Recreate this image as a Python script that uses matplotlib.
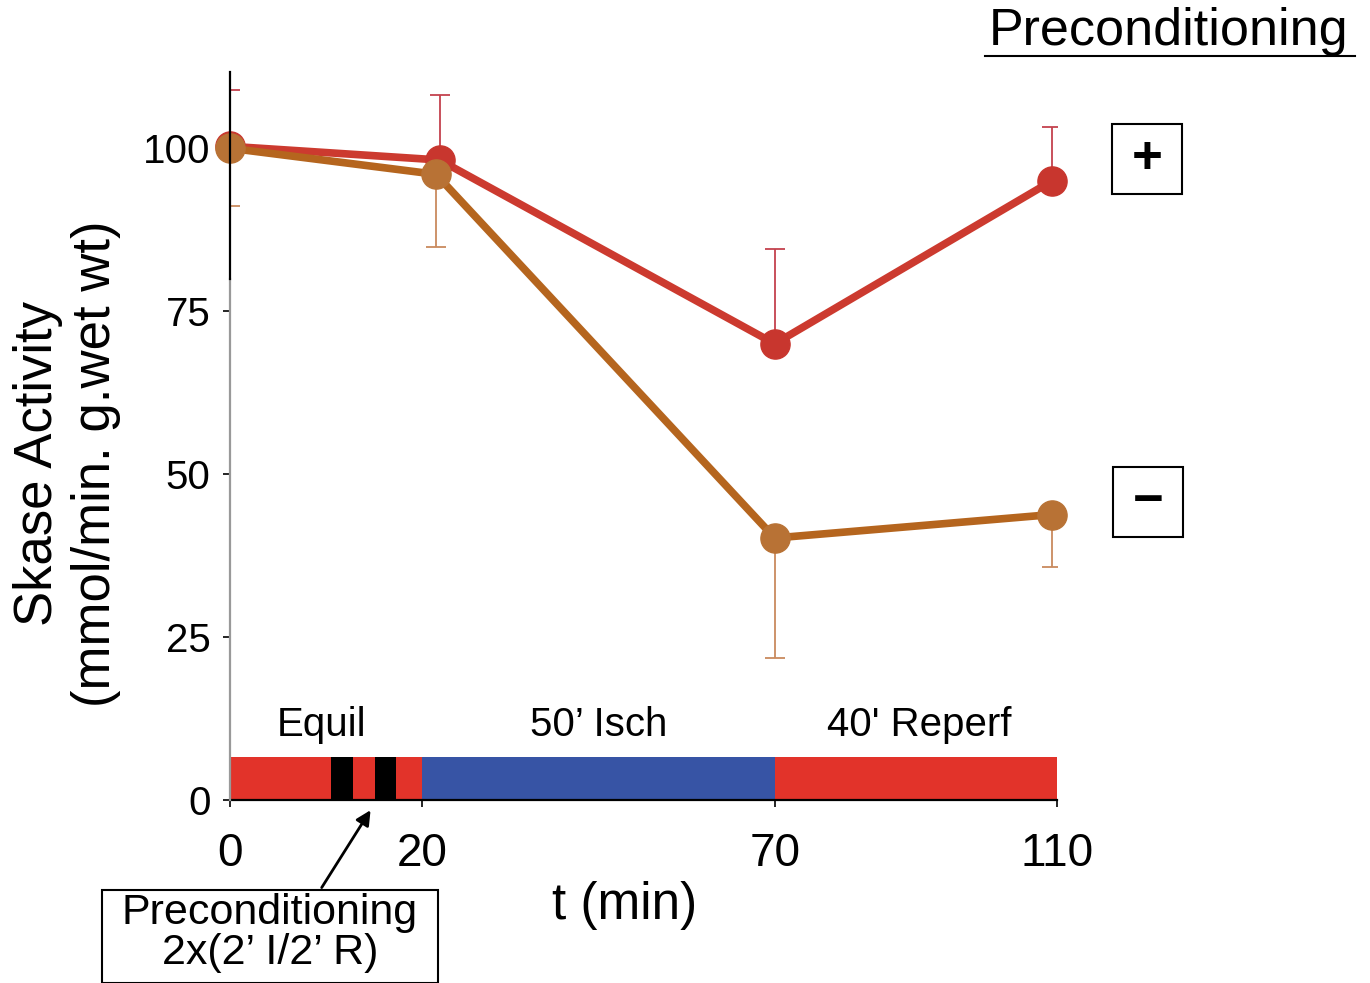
import numpy as np
import matplotlib
matplotlib.use("Agg")
import matplotlib.pyplot as plt
from matplotlib.patches import Rectangle
from matplotlib.lines import Line2D

plt.rcParams['font.family'] = ['Liberation Sans', 'DejaVu Sans']

# data
plus_t = [0, 22.5, 70, 109.3]
plus_mean = [100.3, 98.2, 70.0, 95.0]
plus_err = [8.7, 10.0, 14.5, 8.2]

minus_t = [0, 22.0, 70, 109.3]
minus_mean = [100.0, 96.0, 40.2, 43.8]
minus_err = [8.9, 11.2, 18.4, 8.1]

x_ticks = [0, 20, 70, 110]
y_ticks = [0, 25, 50, 75, 100]

# protocol timeline (start, duration)
phases = [(0, 20), (20, 50), (70, 40)]
phase_colors = ['#e2332a', '#3754a5', '#e2332a']
phase_labels = ['Equil', '50\u2019 Isch', "40' Reperf"]
precond_pulses = [(10.5, 2.3), (15.1, 2.2)]

W, H = 1370, 983


def px(x, y):
    return (x / W, 1 - y / H)


# piecewise scale: first 20 min drawn wider than the rest
seg_in = [0, 20, 110]
seg_out = [0, 27.2, 117.2]


def fwd(x):
    return np.interp(x, seg_in, seg_out)


def inv(x):
    return np.interp(x, seg_out, seg_in)


fig = plt.figure(figsize=(W / 100, H / 100), dpi=100)
l, b = px(230, 800)
r, t = px(1057, 72)
ax = fig.add_axes([l, b, r - l, t - b])
ax.set_xscale('function', functions=(fwd, inv))
ax.set_xlim(0, 110)
ax.set_ylim(0, 111.7)

# timeline bar
ax.broken_barh(phases, (0, 6.6), facecolors=phase_colors, zorder=1)
ax.broken_barh(precond_pulses, (0, 6.6), facecolors='black', zorder=2)
for (s, d), lab, dx in zip(phases, phase_labels, [-0.5, 0, 0.5]):
    ax.text(s + d / 2 + dx, 11.5, lab, ha='center', va='center', fontsize=29)

# series
ax.errorbar(plus_t, plus_mean, yerr=[[0] * 4, plus_err], fmt='none',
            ecolor='#c4424e', elinewidth=1.3, capsize=7, capthick=1.3, zorder=3)
ax.plot(plus_t, plus_mean, color='#cc3a2f', lw=5.5, marker='o', ms=21,
        mfc='#c8362e', mec='#c8362e', zorder=4, clip_on=False)
ax.errorbar(minus_t, minus_mean, yerr=[minus_err, [0] * 4], fmt='none',
            ecolor='#c98a5e', elinewidth=1.3, capsize=7, capthick=1.3, zorder=5)
ax.plot(minus_t, minus_mean, color='#b5651e', lw=5.5, marker='o', ms=21,
        mfc='#b87235', mec='#b87235', zorder=6, clip_on=False)

# axes styling
for s in ['top', 'right', 'left']:
    ax.spines[s].set_visible(False)
ax.spines['bottom'].set_linewidth(1.6)
ax.plot([0, 0], [0, 80], color='#999999', lw=1.6, clip_on=False, zorder=7)
ax.plot([0, 0], [80, 111.7], color='black', lw=1.6, clip_on=False, zorder=7)

ax.set_xticks(x_ticks)
ax.set_xticklabels([str(v) for v in x_ticks])
ax.set_yticks(y_ticks)
ax.tick_params(axis='x', labelsize=33, length=5, width=1.2, pad=18)
ax.tick_params(axis='y', labelsize=29, length=5, width=1.2, pad=9)

# preconditioning callout
ax.annotate('', xy=(14.8, -1.2), xytext=(9.4, -13.8), annotation_clip=False,
            arrowprops=dict(arrowstyle='-|>', color='black', lw=2, mutation_scale=22))
x0, y0 = px(102, 983)
x1, y1 = px(438, 890)
fig.add_artist(Rectangle((x0, y0), x1 - x0, y1 - y0, transform=fig.transFigure,
                         fill=False, ec='black', lw=1.5))
fig.text(*px(270, 933), 'Preconditioning\n2x(2\u2019 I/2\u2019 R)', ha='center', va='center',
         fontsize=31, linespacing=1.0)

# axis labels
fig.text(*px(67, 464), 'Skase Activity\n(mmol/min. g.wet wt)', rotation=90,
         ha='center', va='center', fontsize=38, linespacing=1.2)
fig.text(*px(625, 905), 't (min)', ha='center', va='center', fontsize=37)

# legend-like annotations on the right
fig.text(*px(1169, 31), 'Preconditioning', ha='center', va='center', fontsize=37.5)
fig.add_artist(Line2D([985 / W, 1355 / W], [1 - 56 / H] * 2, color='black', lw=1.5))

for cx, cy, sym in [(1147, 159, '+'), (1148, 502, '\u2212')]:
    bx0, by0 = px(cx - 35, cy + 35)
    bx1, by1 = px(cx + 35, cy - 35)
    fig.add_artist(Rectangle((bx0, by0), bx1 - bx0, by1 - by0, transform=fig.transFigure,
                             fill=False, ec='black', lw=1.5))
    fig.text(*px(cx, cy), sym, ha='center', va='center', fontsize=38, fontweight='bold')

fig.savefig('out.png', dpi=100)
